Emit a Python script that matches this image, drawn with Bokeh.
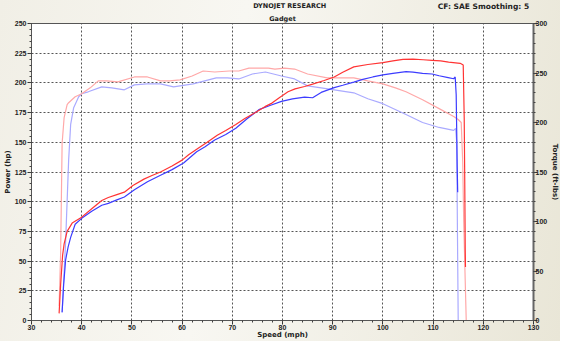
from bokeh.plotting import figure
from bokeh.layouts import column
from bokeh.models import Range1d, LinearAxis, FixedTicker, ColumnDataSource, Title
from bokeh.core.properties import value
from bokeh.embed import file_html
from bokeh.resources import INLINE

# ---- data ----
x_ticks = [30, 40, 50, 60, 70, 80, 90, 100, 110, 120, 130]
hp_ticks = [0, 25, 50, 75, 100, 125, 150, 175, 200, 225, 250]
tq_ticks = [0, 50, 100, 150, 200, 250, 300]

header_texts = ["DYNOJET RESEARCH", "CF: SAE  Smoothing: 5"]
sub_title = "Gadget"

run1_speed = [35.5, 35.8, 36.2, 36.5, 37.1, 38.1, 40.0, 42.0, 44.0, 45.3, 47.0, 48.5, 50.2, 52.4,
              54.0, 55.7, 58.0, 60.0, 61.3, 63.2, 65.0, 67.0, 68.7, 70.7, 72.5, 74.6, 76.5, 77.9,
              79.5, 81.1, 82.5, 84.4, 86.0, 88.3, 90.3, 92.0, 94.2, 97.0, 100.0, 102.0, 104.0,
              106.0, 108.0, 109.8, 111.5, 113.1, 115.4, 116.0, 116.2, 116.3, 116.4, 116.45]
run1_hp = [6, 30, 55, 64.5, 75, 82, 87, 94, 101, 103.5, 106, 108, 113.6, 119,
           122, 125, 130, 135, 139.5, 145, 150, 156, 160, 165, 170, 175, 180, 183,
           188, 192.5, 195, 197, 199, 202, 205, 209, 213.5, 215.5, 217, 218.5, 219.8,
           220, 219.5, 219, 218.5, 217.5, 216.5, 215, 170, 120, 60, 45]

run1_tq_speed = [35.5, 35.8, 36.1, 36.5, 37.1, 37.4, 38.7, 40.0, 41.7, 43.3, 45.0, 47.2, 50.5,
                 53.1, 55.7, 57.5, 59.6, 62.0, 64.2, 66.5, 69.4, 71.3, 73.3, 77.2, 78.5, 80.4,
                 82.4, 85.0, 88.9, 91.5, 94.2, 97.0, 100.0, 102.5, 104.6, 107.9, 111.2, 114.1,
                 115.0, 115.6, 115.9, 116.1, 116.4, 116.6]
run1_tq = [15, 67, 179, 205, 218, 220, 226, 229, 235, 242, 242, 241, 246,
           246, 242, 242, 243, 247, 252, 251, 252, 252, 255, 255, 254, 255,
           254, 249, 245, 245, 245, 242, 239, 235, 231, 223, 214, 206,
           203, 200, 160, 100, 40, 0]

run2_speed = [36.1, 36.4, 36.8, 37.3, 37.8, 38.7, 40.0, 42.0, 44.0, 45.3, 47.0, 48.5, 50.5,
              53.1, 55.7, 58.0, 60.3, 62.9, 64.5, 66.5, 68.7, 70.7, 73.0, 75.3, 77.5, 79.8,
              82.0, 84.4, 86.0, 87.7, 90.3, 92.0, 94.2, 96.0, 98.0, 100.0, 102.0, 104.6,
              106.0, 107.9, 109.8, 111.2, 113.0, 114.1, 114.4, 114.6, 114.7, 114.8, 114.9]
run2_hp = [7, 30, 51, 62, 70, 81, 86, 92, 97, 98.6, 101.5, 104, 110,
           116.8, 122.3, 127, 132.6, 142, 146, 152, 156.6, 161.8, 170, 177.5, 181, 184.4,
           186.5, 188, 187.5, 192, 196, 198, 200.7, 203, 205, 206.7, 208, 209.5,
           209, 208, 207.5, 206, 204.5, 203.5, 205, 190, 160, 130, 108]

run2_tq_speed = [36.1, 36.8, 37.4, 37.8, 38.4, 39.4, 40.0, 41.3, 44.0, 46.0, 48.5, 50.5, 53.0,
                 55.7, 58.3, 62.2, 64.5, 66.8, 69.0, 71.3, 74.0, 76.6, 79.8, 82.4, 85.0, 87.7,
                 90.3, 94.2, 97.0, 100.0, 104.6, 107.9, 111.2, 114.1, 114.5, 114.7, 114.8,
                 114.9, 115.0]
run2_tq = [8, 80, 162, 198, 215, 226, 229, 231, 236, 235, 233, 238, 239,
           239, 236, 239, 242, 245, 245, 244, 249, 251, 247, 244, 237, 235,
           233, 230, 224, 219, 208, 200, 195, 192, 194, 180, 120, 60, 0]

FONT = "DejaVu Sans"
TICK_FONT = "Liberation Sans"
TXT = "#222222"
W = 560
HEAD_H = 11

# ---- header strip (top title row) ----
head = figure(width=W, height=HEAD_H, output_backend="svg", toolbar_location=None,
              x_range=Range1d(0, W), y_range=Range1d(0, HEAD_H),
              min_border_left=0, min_border_right=0, min_border_top=0, min_border_bottom=0)
head.title.visible = False
head.axis.visible = False
head.grid.visible = False
head.outline_line_color = None
head.background_fill_alpha = 0
head.border_fill_alpha = 0
hsrc = ColumnDataSource(dict(x=[288, 558], y=[10.8, 10.8], t=header_texts,
                             align=["center", "right"], size=["6.5px", "7.5px"]))
head.text("x", "y", text="t", source=hsrc, text_align="align", text_baseline="top",
          text_font=value(FONT), text_font_style="bold", text_font_size="size",
          text_color=TXT)

# ---- main chart ----
p = figure(width=W, height=341 - HEAD_H, output_backend="svg", toolbar_location=None,
           x_range=Range1d(30, 130), y_range=Range1d(0, 250),
           min_border_left=0, min_border_right=0, min_border_top=11, min_border_bottom=0)
p.title.text = sub_title
p.title.align = "center"
p.title.text_font = FONT
p.title.text_font_style = "bold"
p.title.text_font_size = "6.5px"
p.title.text_color = TXT
p.title.standoff = 2
p.extra_y_ranges = {"torque": Range1d(0, 300)}

p.background_fill_color = "white"
p.border_fill_alpha = 0
p.outline_line_color = "#555555"
p.outline_line_width = 1

def style_axis(ax, label):
    ax.axis_label = label
    ax.axis_label_text_font = FONT
    ax.axis_label_text_font_style = "bold"
    ax.axis_label_text_font_size = "7px"
    ax.axis_label_text_color = TXT
    ax.axis_label_standoff = 0
    ax.axis_line_color = "#555555"
    ax.major_tick_line_color = "#333333"
    ax.minor_tick_line_color = "#444444"
    ax.major_tick_in = 0
    ax.major_tick_out = 4
    ax.minor_tick_in = 0
    ax.minor_tick_out = 2
    ax.major_label_standoff = 1
    ax.major_label_text_font = TICK_FONT
    ax.major_label_text_font_style = "bold"
    ax.major_label_text_font_size = "7px"
    ax.major_label_text_color = TXT

p.xaxis.ticker = FixedTicker(ticks=x_ticks, minor_ticks=list(range(30, 131, 2)))
p.yaxis.ticker = FixedTicker(ticks=hp_ticks, minor_ticks=list(range(0, 251, 5)))
style_axis(p.xaxis[0], "Speed (mph)")
style_axis(p.yaxis[0], "Power (hp)")
p.xaxis[0].major_label_standoff = 0
p.xaxis[0].axis_label_standoff = -2

rax = LinearAxis(y_range_name="torque",
                 ticker=FixedTicker(ticks=tq_ticks, minor_ticks=list(range(0, 301, 10))))
style_axis(rax, None)
rax.major_label_standoff = -2
rax.axis_line_width = 2
rax.axis_line_color = "#666666"
p.add_layout(rax, "right")
p.add_layout(Title(text="Torque (ft-lbs)", align="center", text_font=FONT,
                   text_font_style="bold", text_font_size="7px", text_color=TXT,
                   standoff=0), "right")

p.xgrid.ticker = FixedTicker(ticks=x_ticks[1:-1])
p.ygrid.ticker = FixedTicker(ticks=hp_ticks[1:-1])
for g in (p.xgrid[0], p.ygrid[0]):
    g.grid_line_color = "#555555"
    g.grid_line_dash = "2 2"
    g.grid_line_width = 1

src_t1 = ColumnDataSource(dict(x=run1_tq_speed, y=run1_tq))
src_t2 = ColumnDataSource(dict(x=run2_tq_speed, y=run2_tq))
src_p1 = ColumnDataSource(dict(x=run1_speed, y=run1_hp))
src_p2 = ColumnDataSource(dict(x=run2_speed, y=run2_hp))

p.line("x", "y", source=src_t2, y_range_name="torque", line_color="#aaaaff", line_width=1.2)
p.line("x", "y", source=src_t1, y_range_name="torque", line_color="#ffa8a8", line_width=1.2)
p.line("x", "y", source=src_p2, line_color="#3c3cff", line_width=1.2)
p.line("x", "y", source=src_p1, line_color="#ff3434", line_width=1.2)

layout = column(head, p, spacing=0,
                styles={"background": "linear-gradient(100deg, #f1efe6 0%, #f8f7f2 40%, #e9e6d7 100%)"})

open("out.html", "w").write(file_html(layout, INLINE))
